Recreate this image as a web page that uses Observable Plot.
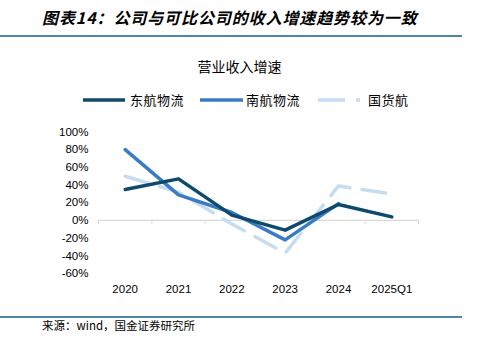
<!DOCTYPE html>
<html><head><meta charset="utf-8">
<script src="https://cdn.jsdelivr.net/npm/d3@7"></script>
<script src="https://cdn.jsdelivr.net/npm/@observablehq/plot@0.6"></script>
<style>
body{margin:0;background:#fff;}
#wrap{position:relative;width:479px;height:352px;overflow:hidden;font-family:"Noto Sans CJK SC",sans-serif;color:#000;}
#title{position:absolute;left:42px;top:6px;font-size:16px;font-weight:bold;font-style:italic;letter-spacing:0.9px;white-space:nowrap;line-height:22px;}
.hr{position:absolute;left:0;width:462px;height:2px;background:#4f86a8;}
#sub{position:absolute;left:0;width:479px;text-align:center;top:57px;font-size:14px;line-height:18px;}
#legend{position:absolute;left:0;top:90px;}
#src{position:absolute;left:42px;top:317px;font-size:11.5px;line-height:16px;white-space:nowrap;}
#chart{position:absolute;left:0;top:120px;}
</style></head>
<body><div id="wrap">
<div id="title">图表14：公司与可比公司的收入增速趋势较为一致</div>
<div class="hr" style="top:34.5px"></div>
<div id="sub">营业收入增速</div>
<div id="legend"></div>
<div id="chart"></div>
<div class="hr" style="top:315.5px"></div>
<div id="src">来源：wind，国金证券研究所</div>
</div>
<script>
const categories = ["2020","2021","2022","2023","2024","2025Q1"];
const seriesNames = ["东航物流","南航物流","国货航"];
const dongHang = [35, 47, 6, -11, 18, 4];
const nanHang = [80, 29, 9, -22, 19, null];
const guoHuo = [50, 32, -4, -37, 39, 30];
const yTicks = [-60, -40, -20, 0, 20, 40, 60, 80, 100];
const colors = ["#0d4a6b", "#3a7cc3", "#c6dcf0"];

const toRows = (vals) => vals.map((v, i) => ({i, v})).filter(d => d.v != null);
const idx = categories.map((c, i) => i);
const bounds = categories.map((c, i) => i - 0.5).concat([categories.length - 0.5]);

const chart = Plot.plot({
  width: 479, height: 180,
  marginLeft: 98, marginRight: 61, marginTop: 11.5, marginBottom: 27,
  style: {fontFamily: "'Liberation Sans', Arial, sans-serif", fontSize: "11.5px", color: "#000", background: "transparent", overflow: "visible"},
  x: {type: "linear", domain: [-0.5, categories.length - 0.5], axis: null},
  y: {domain: [-60, 100], axis: null},
  marks: [
    Plot.axisY(yTicks, {tickFormat: d => d + "%", tickSize: 0, tickPadding: 10, label: null, fill: "#000"}),
    Plot.axisX(idx, {tickFormat: i => categories[i], tickSize: 0, tickPadding: 11, label: null, fill: "#000"}),
    Plot.ruleY([0], {stroke: "#d9d9d9", strokeWidth: 1.2}),
    Plot.ruleX(bounds, {x: d => d, y1: 0, y2: 0, insetBottom: -4, stroke: "#d9d9d9", strokeWidth: 1}),
    Plot.line(toRows(guoHuo), {x: "i", y: "v", stroke: colors[2], strokeWidth: 3.5, strokeDasharray: "24,12"}),
    Plot.line(toRows(nanHang), {x: "i", y: "v", stroke: colors[1], strokeWidth: 3.5}),
    Plot.line(toRows(dongHang), {x: "i", y: "v", stroke: colors[0], strokeWidth: 3.5})
  ]
});
document.getElementById("chart").appendChild(chart);

// legend
const lg = d3.select("#legend").append("svg").attr("width", 479).attr("height", 20);
const items = [
  {x1: 83, x2: 125, tx: 130, dash: null},
  {x1: 200, x2: 243, tx: 246, dash: null},
  {x1: 318, x2: 360, tx: 368, dash: "27,11"}
];
items.forEach((it, k) => {
  lg.append("line").attr("x1", it.x1).attr("x2", it.x2).attr("y1", 10).attr("y2", 10)
    .attr("stroke", colors[k]).attr("stroke-width", 3.5)
    .attr("stroke-dasharray", it.dash);
  lg.append("text").attr("x", it.tx).attr("y", 10).attr("dy", "0.35em")
    .attr("font-size", 13).attr("font-family", "'Noto Sans CJK SC', sans-serif")
    .attr("letter-spacing", "0.5px").text(seriesNames[k]);
});
</script>
</body></html>
